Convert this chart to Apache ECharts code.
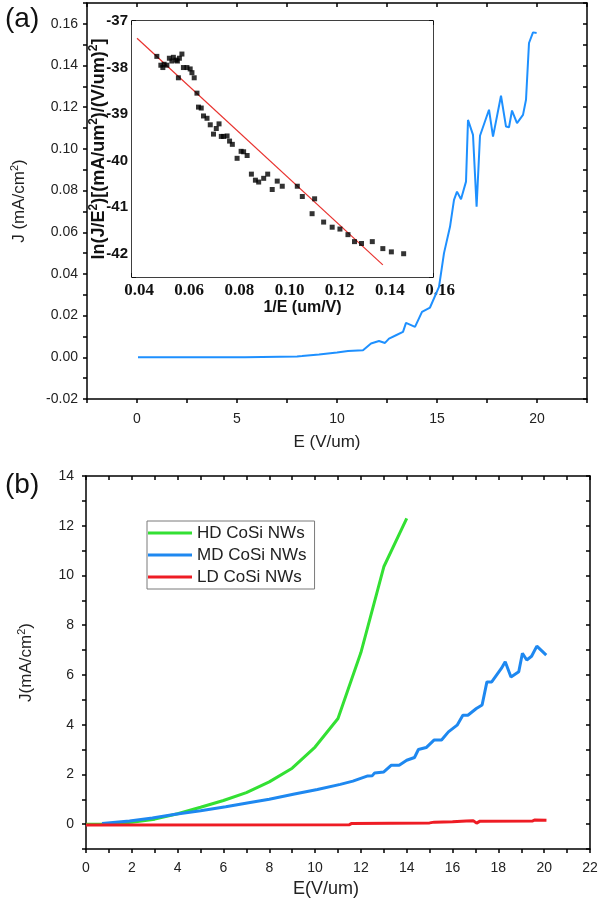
<!DOCTYPE html>
<html>
<head>
<meta charset="utf-8">
<script src="https://cdn.jsdelivr.net/npm/echarts@6.0.0/dist/echarts.min.js"></script>
<style>
html,body{margin:0;padding:0;background:#fff;}
#chart{width:600px;height:901px;}
</style>
</head>
<body>
<div id="chart"></div>
<script>
// ---------- Panel (a) main curve ----------
const aE = [0.05, 5.4, 5.5, 8.0, 8.25, 9.1, 10.0, 10.55, 11.3, 11.7, 12.1, 12.4, 12.6, 12.95, 13.3, 13.45, 13.9, 14.25, 14.65, 15.1, 15.35, 15.65, 15.85, 16.0, 16.2, 16.45, 16.55, 16.8, 16.98, 17.15, 17.6, 17.8, 18.2, 18.45, 18.6, 18.75, 19.0, 19.3, 19.45, 19.6, 19.8, 19.98];
const aJ = [0, 0, 0.0003, 0.0004, 0.0006, 0.0014, 0.0023, 0.003, 0.0034, 0.0066, 0.0078, 0.0069, 0.009, 0.0106, 0.0122, 0.0165, 0.0146, 0.0218, 0.0239, 0.0338, 0.05, 0.0626, 0.0755, 0.0795, 0.0758, 0.0843, 0.1139, 0.1067, 0.0723, 0.1063, 0.1188, 0.1059, 0.1255, 0.1107, 0.1104, 0.1184, 0.1124, 0.1163, 0.1236, 0.1508, 0.1559, 0.1556];

// ---------- Panel (a) inset: F-N plot ----------
const insetX = [0.0499,0.0515,0.0523,0.0528,0.0539,0.0549,0.0559,0.0565,0.0576,0.0581,0.0589,0.0599,0.0605,0.0619,0.0632,0.0639,0.0585,0.0648,0.0659,0.0665,0.0676,0.0685,0.0699,0.0712,0.0725,0.0736,0.0747,0.0756,0.0765,0.0779,0.0789,0.0800,0.0819,0.0835,0.0845,0.0859,0.0876,0.0892,0.0905,0.0925,0.0941,0.0959,0.0979,0.0999,0.1059,0.1079,0.1118,0.1128,0.1164,0.1198,0.1229,0.1261,0.1287,0.1315,0.1358,0.1400,0.1434,0.1483];
const insetY = [-37.76,-37.95,-38.00,-37.93,-37.95,-37.80,-37.86,-37.78,-37.84,-37.86,-37.80,-37.71,-38.00,-38.00,-38.03,-38.11,-38.22,-38.22,-38.55,-38.85,-38.87,-39.04,-39.09,-39.23,-39.43,-39.31,-39.21,-39.48,-39.48,-39.47,-39.58,-39.65,-39.95,-39.80,-39.81,-39.89,-40.29,-40.42,-40.46,-40.38,-40.29,-40.62,-40.44,-40.55,-40.55,-40.77,-41.14,-40.82,-41.32,-41.43,-41.47,-41.59,-41.74,-41.78,-41.74,-41.89,-41.96,-42.00];
const fitX = [0.042, 0.140];
const fitY = [-37.37, -42.24];

// ---------- Panel (b) ----------
const hdE = [0,1,2,3,4,5,6,7,8,9,10,11,12,13,14];
const hdJ = [0,0.01,0.08,0.2,0.42,0.68,0.95,1.27,1.7,2.25,3.1,4.25,6.9,10.35,12.3];
const mdE = [0.7,1.9,2.9,3.9,5.0,6.1,7.1,8.0,9.1,10.1,11.1,11.65,12.3,12.5,12.6,13.0,13.33,13.67,14.0,14.34,14.51,14.85,15.19,15.52,15.82,16.2,16.45,16.67,17.04,17.29,17.5,17.71,18.13,18.3,18.55,18.89,19.05,19.24,19.45,19.68,20.09];
const mdJ = [0.03,0.13,0.25,0.40,0.54,0.70,0.86,1.0,1.21,1.39,1.60,1.73,1.94,1.95,2.06,2.1,2.37,2.37,2.57,2.68,3.0,3.08,3.38,3.38,3.71,3.98,4.38,4.38,4.65,4.79,5.72,5.72,6.26,6.53,5.92,6.13,6.87,6.6,6.75,7.16,6.8];
const ldE = [0,11.5,11.6,15.0,15.2,16.0,16.6,16.9,17.05,17.2,19.5,19.6,20.1];
const ldJ = [-0.03,-0.02,0.03,0.05,0.08,0.1,0.13,0.14,0.04,0.12,0.13,0.17,0.16];
const seriesNames = ['HD CoSi NWs','MD CoSi NWs','LD CoSi NWs'];

// ---------- Tick labels ----------
const aXLabels = [0,5,10,15,20];
const aYLabels = [-0.02,0,0.02,0.04,0.06,0.08,0.10,0.12,0.14,0.16];
const inXLabels = [0.04,0.06,0.08,0.10,0.12,0.14,0.16];
const inYLabels = [-42,-41,-40,-39,-38,-37];
const bXLabels = [0,2,4,6,8,10,12,14,16,18,20,22];
const bYLabels = [0,2,4,6,8,10,12,14];

const zip = (xs, ys) => xs.map((x, i) => [x, ys[i]]);
const pick = (list, digits) => v => {
  const t = list.find(t => Math.abs(t - v) < 1e-7);
  return t === undefined ? '' : t.toFixed(digits);
};
const SANS = 'Liberation Sans';
const AX = { color: '#000', width: 1.5 };

function xPair(grid, min, max, interval, fmt, label, name, nameOpt, tickInside) {
  return [
    Object.assign({
      type: 'value', gridIndex: grid, position: 'bottom', min, max, interval,
      axisLine: { show: true, onZero: false, lineStyle: AX },
      axisTick: { show: true, inside: tickInside, length: 4, lineStyle: AX },
      axisLabel: Object.assign({ formatter: fmt, color: '#222', fontFamily: SANS, fontSize: 13, margin: 10, showMinLabel: true, showMaxLabel: true, hideOverlap: false }, label),
      splitLine: { show: false },
      name: name, nameLocation: 'middle'
    }, nameOpt),
    {
      type: 'value', gridIndex: grid, position: 'top', min, max, interval,
      axisLine: { show: true, onZero: false, lineStyle: AX },
      axisTick: { show: true, inside: true, length: 4, lineStyle: AX },
      axisLabel: { show: false }, splitLine: { show: false }
    }
  ];
}
function yPair(grid, min, max, interval, fmt, label, name, nameOpt, tickInside) {
  return [
    Object.assign({
      type: 'value', gridIndex: grid, position: 'left', min, max, interval,
      axisLine: { show: true, onZero: false, lineStyle: AX },
      axisTick: { show: true, inside: tickInside, length: 4, lineStyle: AX },
      axisLabel: Object.assign({ formatter: fmt, color: '#222', fontFamily: SANS, fontSize: 13, margin: 8, showMinLabel: true, showMaxLabel: true, hideOverlap: false }, label),
      splitLine: { show: false },
      name: name, nameLocation: 'middle'
    }, nameOpt),
    {
      type: 'value', gridIndex: grid, position: 'right', min, max, interval,
      axisLine: { show: true, onZero: false, lineStyle: AX },
      axisTick: { show: true, inside: true, length: 4, lineStyle: AX },
      axisLabel: { show: false }, splitLine: { show: false }
    }
  ];
}

const supRich = (size) => ({ sup: { fontSize: size, fontFamily: SANS, padding: [0, 0, Math.round(size * 0.8), 0] } });
const supRichBold = (size) => ({ sup: { fontSize: size, fontFamily: SANS, fontWeight: 'bold', padding: [0, 0, Math.round(size * 0.8), 0] } });

const xAxes = [].concat(
  xPair(0, -2.5, 22.5, 2.5, pick(aXLabels, 0), { fontSize: 14, margin: 13 }, 'E (V/um)',
    { nameGap: 35, nameTextStyle: { fontFamily: SANS, fontSize: 17, color: '#222', padding: [0, 20, 0, 0] } }, false),
  xPair(1, 0.04, 0.16, 0.01, pick(inXLabels, 2), { fontFamily: 'Liberation Serif', fontWeight: 'bold', fontSize: 17, margin: 5, color: '#111', padding: [0, 0, 0, 14] }, '1/E (um/V)',
    { nameGap: 22, nameTextStyle: { fontFamily: SANS, fontWeight: 'bold', fontSize: 16, color: '#111', padding: [0, 0, 0, 40] } }, true),
  xPair(2, 0, 22, 1, pick(bXLabels, 0), { fontSize: 14, margin: 12 }, 'E(V/um)',
    { nameGap: 31, nameTextStyle: { fontFamily: SANS, fontSize: 18, color: '#222', padding: [0, 24, 0, 0] } }, false)
);
const yAxes = [].concat(
  yPair(0, -0.02, 0.17, 0.01, pick(aYLabels, 2), { fontSize: 14, margin: 9 }, 'J (mA/cm{sup|2})',
    { nameGap: 58, nameTextStyle: { fontFamily: SANS, fontSize: 17, color: '#222', rich: supRich(11) } }, false),
  yPair(1, -42.5, -37, 0.5, pick(inYLabels, 0), { fontWeight: 'bold', fontSize: 15, margin: 4, color: '#111' }, 'ln(J/E{sup|2})[(mA/um{sup|2})/(V/um){sup|2}]',
    { nameGap: 22, nameMoveOverlap: false, nameTextStyle: { fontFamily: SANS, fontWeight: 'bold', fontSize: 18, color: '#111', rich: supRichBold(12) } }, true),
  yPair(2, -1, 14, 1, pick(bYLabels, 0), { fontSize: 14, margin: 12 }, 'J(mA/cm{sup|2})',
    { nameGap: 50, nameTextStyle: { fontFamily: SANS, fontSize: 17, color: '#222', rich: supRich(11) } }, false)
);

const option = {
  animation: false,
  backgroundColor: '#fff',
  title: [
    { text: '(a)', left: 0, top: 0, textStyle: { fontFamily: SANS, fontSize: 28, fontWeight: 'normal', color: '#111' } },
    { text: '(b)', left: 0, top: 466, textStyle: { fontFamily: SANS, fontSize: 28, fontWeight: 'normal', color: '#111' } }
  ],
  grid: [
    { left: 87, top: 3, width: 500, height: 396, containLabel: false, outerBoundsMode: 'none' },
    { left: 132, top: 21, width: 301, height: 256, containLabel: false, outerBoundsMode: 'none', show: true, backgroundColor: '#fff', borderWidth: 0, z: 3 },
    { left: 86, top: 476, width: 504, height: 373, containLabel: false, outerBoundsMode: 'none' }
  ],
  xAxis: xAxes,
  yAxis: yAxes,
  legend: {
    data: seriesNames,
    orient: 'vertical',
    left: 147, top: 521,
    padding: [1, 8, 1, 1],
    itemGap: 0,
    itemWidth: 44, itemHeight: 3,
    icon: 'rect',
    borderColor: '#7a7a7a', borderWidth: 1,
    backgroundColor: '#fff',
    textStyle: { fontFamily: SANS, fontSize: 17, color: '#222', lineHeight: 22, height: 22 }
  },
  series: [
    { type: 'line', name: 'J-E', xAxisIndex: 0, yAxisIndex: 0, data: zip(aE, aJ), showSymbol: false, symbol: 'none',
      lineStyle: { color: '#1E90FF', width: 2 }, itemStyle: { color: '#1E90FF' } },
    { type: 'line', name: 'fit', xAxisIndex: 2, yAxisIndex: 2, data: zip(fitX, fitY), showSymbol: false, symbol: 'none', z: 4,
      lineStyle: { color: '#E8322E', width: 1.2 } },
    { type: 'scatter', name: 'FN', xAxisIndex: 2, yAxisIndex: 2, data: zip(insetX, insetY), symbol: 'rect', symbolSize: 5, z: 5,
      itemStyle: { color: '#000' } },
    { type: 'line', name: seriesNames[0], xAxisIndex: 4, yAxisIndex: 4, data: zip(hdE, hdJ), showSymbol: false, symbol: 'none',
      lineStyle: { color: '#33E033', width: 3 }, itemStyle: { color: '#33E033' } },
    { type: 'line', name: seriesNames[1], xAxisIndex: 4, yAxisIndex: 4, data: zip(mdE, mdJ), showSymbol: false, symbol: 'none',
      lineStyle: { color: '#1E88F0', width: 3 }, itemStyle: { color: '#1E88F0' } },
    { type: 'line', name: seriesNames[2], xAxisIndex: 4, yAxisIndex: 4, data: zip(ldE, ldJ), showSymbol: false, symbol: 'none',
      lineStyle: { color: '#EE1C24', width: 3 }, itemStyle: { color: '#EE1C24' } }
  ]
};
const chart = echarts.init(document.getElementById('chart'), null, { renderer: 'canvas' });
chart.setOption(option);
</script>
</body>
</html>
